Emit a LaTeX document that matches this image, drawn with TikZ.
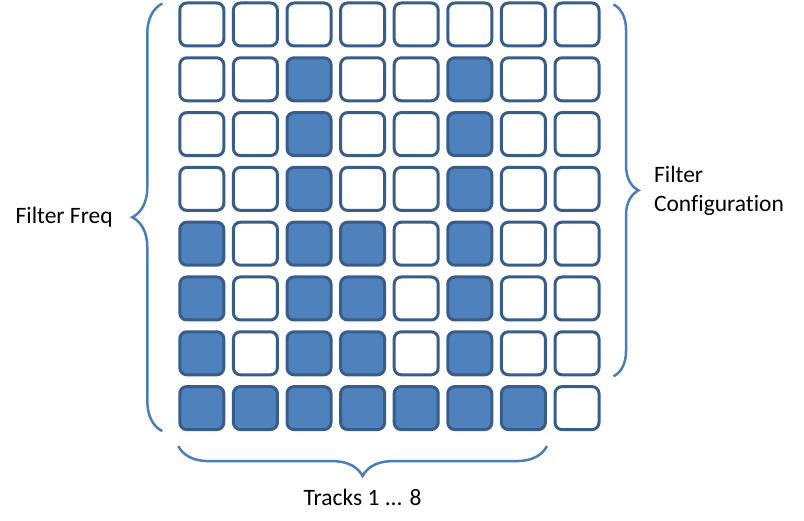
\documentclass[tikz,border=0pt]{standalone}
\usepackage{fontspec}
\setmainfont{Carlito}[Ligatures=NoCommon]
\usetikzlibrary{decorations.pathreplacing}

\definecolor{cellfill}{HTML}{4F81BD}
\definecolor{cellline}{HTML}{385D8A}
\definecolor{bracecol}{HTML}{4A7EBB}

\tikzset{
  cell0/.style={draw=cellline, line width=3pt, rounded corners=7pt, fill=white,
    minimum width=44pt, minimum height=43pt, inner sep=0pt},
  cell1/.style={cell0, fill=cellfill},
  bracket/.style={draw=bracecol, line width=2.5pt, decorate, decoration={brace, amplitude=#1}},
  bracetext/.style={font=\fontsize{23.5}{29}\selectfont, text=black}
}

\begin{document}
\begin{tikzpicture}[x=1pt, y=1pt]
        \useasboundingbox (0,0) rectangle (804,521);

        % 8 x 8 grid, one pattern per row
        \foreach \row/\pat in {1/{0,0,0,0,0,0,0,0}, 2/{0,0,1,0,0,1,0,0},
                               3/{0,0,1,0,0,1,0,0}, 4/{0,0,1,0,0,1,0,0},
                               5/{1,0,1,1,0,1,0,0}, 6/{1,0,1,1,0,1,0,0},
                               7/{1,0,1,1,0,1,0,0}, 8/{1,1,1,1,1,1,1,0}}{
            \foreach \v [count=\col] in \pat {
                \node[cell\v] (c-\row-\col) at ({201.8+53.6*(\col-1)}, {496.5-54.8*(\row-1)}) {};
            }
        }

        \draw[bracket=30] ([xshift=-16pt]c-8-1.south west) -- ([xshift=-16pt, yshift=-2pt]c-1-1.north west)
            node[midway, left=45pt, bracetext] (freq) {Filter Freq};
        \draw[bracket=25] ([xshift=13pt, yshift=-3pt]c-1-8.north east) -- ([xshift=13pt]c-7-8.south east)
            node[midway, right=36pt, bracetext, align=left] (config) {Filter\\Configuration};
        \draw[bracket=30] ([yshift=-15pt]c-8-7.south east) -- ([yshift=-15pt]c-8-1.south west)
            node[midway, below=39pt, bracetext] (tracks) {Tracks 1 ... 8};

    \end{tikzpicture}
\end{document}
